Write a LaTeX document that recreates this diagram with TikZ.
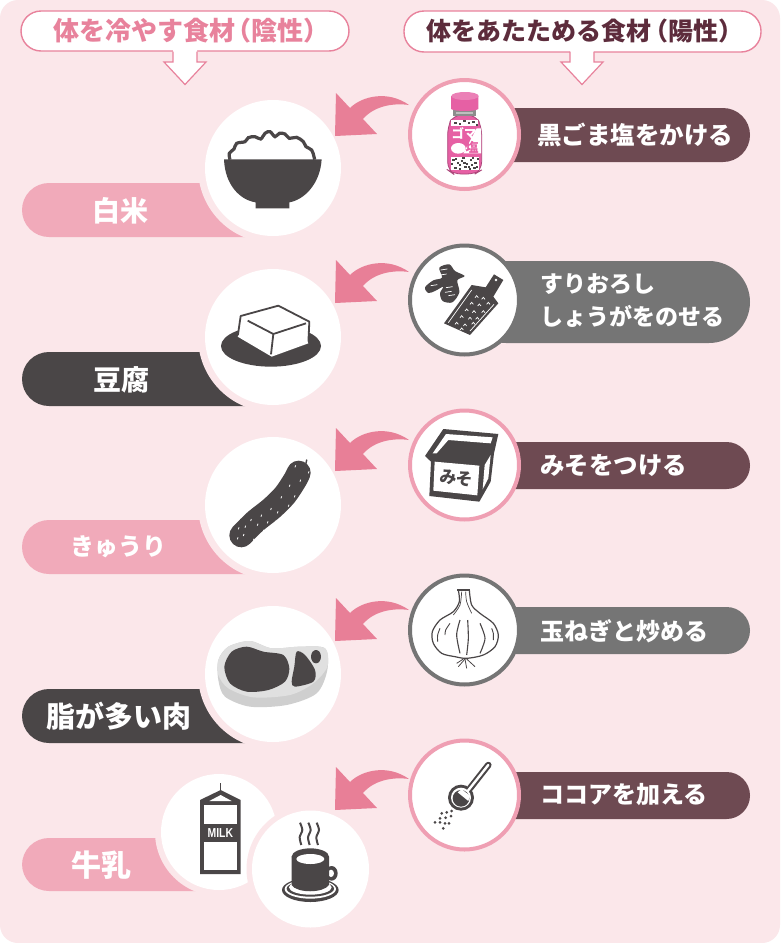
\documentclass[tikz,border=0pt]{standalone}
\usepackage{fontspec}
\setmainfont{Noto Sans CJK JP}
\newfontfamily\latinbold{Liberation Sans}[BoldFont={Liberation Sans Bold}]
\definecolor{bgpink}{HTML}{FBE7EA}
\definecolor{barpink}{HTML}{F1AABA}
\definecolor{inkdark}{HTML}{4A4647}
\definecolor{arrowpink}{HTML}{E87F97}
\definecolor{ringpink}{HTML}{EF9FB3}
\definecolor{headpink}{HTML}{E8829C}
\definecolor{headdark}{HTML}{5D2C3C}
\definecolor{barmaroon}{HTML}{6E4A52}
\definecolor{bargray}{HTML}{757575}
\definecolor{bottlepink}{HTML}{E660A4}
\tikzset{
  headbox/.style={draw=headpink,line width=1.4pt,fill=white,rounded corners=20pt,inner sep=0pt},
  whitedisc/.style={circle,fill=white,inner sep=0pt},
  halodisc/.style={circle,fill=bgpink,inner sep=0pt},
  ringdisc/.style={circle,fill=white,inner sep=0pt,minimum size=109pt,line width=4pt,draw=#1},
  leftlabel/.style={text=white,inner sep=0pt,font=\bfseries\fontsize{#1}{#1}\selectfont},
  rightlabel/.style={text=white,inner sep=0pt,anchor=west,align=left,font=\bfseries\fontsize{#1}{33}\selectfont},
  zoomed/.style n args={2}{shift={(#1,#2)},scale=1/3},
}
\newcommand{\leftbar}[4]{\fill[#1,rounded corners=27pt] (22,#2) rectangle (#4,#3);}
\newcommand{\rightbar}[4]{\fill[#1,rounded corners=#4] (465,#2) rectangle (750,#3);}
\newcommand{\bendarrow}[1]{
  \fill[arrowpink,shift={(0,#1)}] (336,0) -- (350,15) .. controls (362,3) and (388,-3) .. (409,12)
    .. controls (395,10) and (375,12) .. (363,26) -- (377,41) -- (335,43) -- cycle;
}
\newcommand{\headarrow}[1]{
  \fill[white,shift={(#1,0)}] (-12,50) -- (-12,62) -- (-21,62) -- (0,84.5) -- (21,62) -- (12,62) -- (12,50) -- cycle;
  \draw[headpink,line width=1.2pt,shift={(#1,0)}] (-12,51.5) -- (-12,62) -- (-21,62) -- (0,84.5) -- (21,62) -- (12,62) -- (12,51.5);
}
\begin{document}
\begin{tikzpicture}[x=1pt,y=-1pt]
\useasboundingbox (0,0) rectangle (780,943);
\fill[white] (0,0) rectangle (780,943);
\fill[bgpink,rounded corners=18pt] (0,0) rectangle (780,943);

% headers
\node[headbox,minimum width=328pt,minimum height=40pt] (coldhead) at (185,31) {};
\node[headbox,minimum width=357pt,minimum height=41pt] (warmhead) at (582.5,31.5) {};
\headarrow{185}
\headarrow{582}
\node[text=headpink,inner sep=0pt,font=\bfseries\fontsize{26}{26}\selectfont] (coldtext) at (191.5,31) {体を冷やす食材\hspace{-.35em}（陰性）\hspace{-.3em}};
\node[text=headdark,inner sep=0pt,font=\bfseries\fontsize{25}{25}\selectfont] (warmtext) at (585,31) {体をあたためる食材\hspace{-.35em}（陽性）\hspace{-.3em}};

% left bars
\leftbar{barpink}{183}{237}{300}
\leftbar{inkdark}{352}{406}{300}
\leftbar{barpink}{520}{574}{300}
\leftbar{inkdark}{689}{743}{300}
\leftbar{barpink}{838}{891}{240}

% left discs
\foreach \cy [count=\i] in {168,337,505,674} {
  \node[halodisc,minimum size=150pt] (halo\i) at (273,\cy) {};
  \node[whitedisc,minimum size=136pt] (food\i) at (273,\cy) {};
}
\node[halodisc,minimum size=128pt] (halomilk) at (219,832) {};
\node[whitedisc,minimum size=116pt] (milk) at (219,832) {};
\node[halodisc,minimum size=128pt] (halocoffee) at (310.5,869) {};
\node[whitedisc,minimum size=117pt] (coffee) at (310.5,869) {};

\node[leftlabel=28] (rice) at (120.5,211) {白米};
\node[leftlabel=28] (tofu) at (121,380) {豆腐};
\node[leftlabel=24] (cucumber) at (118.5,547) {きゅうり};
\node[leftlabel=29] (meat) at (119,716) {脂が多い肉};
\node[leftlabel=30] (milktext) at (101.5,865) {牛乳};

% right bars
\rightbar{barmaroon}{108}{162}{27pt}
\rightbar{bargray}{261}{343}{41pt}
\rightbar{barmaroon}{442}{489}{23.5pt}
\rightbar{bargray}{607}{654}{23.5pt}
\rightbar{barmaroon}{772}{819}{23.5pt}

\node[ringdisc=ringpink] (sesame) at (464.5,134.5) {};
\node[ringdisc=bargray] (ginger) at (464.5,300) {};
\node[ringdisc=ringpink] (miso) at (464.5,465) {};
\node[ringdisc=bargray] (onion) at (464.5,630) {};
\node[ringdisc=ringpink] (cocoa) at (464.5,795) {};

\node[rightlabel=24.5] (sesametext) at (537,135) {黒ごま塩をかける};
\node[rightlabel=23] (gingertext) at (540,301) {すりおろし\\しょうがをのせる};
\node[rightlabel=24.5] (misotext) at (540,465) {みそをつける};
\node[rightlabel=24] (oniontext) at (540,631) {玉ねぎと炒める};
\node[rightlabel=24] (cocoatext) at (540,795) {ココアを加える};

% arrows
\bendarrow{93}
\bendarrow{260}
\bendarrow{428}
\bendarrow{598}
\bendarrow{767}

% bowl of rice
\begin{scope}[zoomed={220}{125}]
\fill[white] (28,104) -- (28,85) -- (135,25) -- (230,37) -- (282,104) -- cycle;
\draw[inkdark,line width=3.2pt,fill=white] plot[smooth,tension=.6] coordinates {(30,104) (28,85) (42,72) (50,55) (75,50) (85,38) (105,35) (122,42) (135,25) (150,20) (165,35) (178,25) (195,27) (208,40) (230,37) (250,50) (258,65) (275,75) (282,95) (284,104)};
\fill[inkdark] (12,103) -- (305,103) .. controls (300,180) and (250,225) .. (208,232) -- (208,250) -- (107,250) -- (107,232) .. controls (60,225) and (15,180) .. (12,103) -- cycle;
\end{scope}

% tofu
\begin{scope}[zoomed={200}{260}]
\fill[inkdark] (213,258) circle[x radius=150,y radius=62];
\draw[inkdark,line width=1.8pt,fill=white,line join=round] (122,168) -- (235,137) -- (328,185) -- (325,250) -- (215,290) -- (113,230) -- cycle;
\fill[white] (113,230) -- (215,290) -- (325,250) -- (320,240) -- (120,220) -- cycle;
\draw[inkdark,line width=1.8pt] (143,182) -- (220,222) -- (318,190);
\draw[inkdark,line width=1.8pt] (220,222) -- (213,283);
\end{scope}

% cucumber
\begin{scope}[zoomed={200}{260}]
\draw[inkdark,line width=1.5pt,line cap=round] (318,610) -- (320,600);
\draw[inkdark,line width=24pt,line cap=round] plot[smooth] coordinates {(296,638) (285,660) (255,705) (215,745) (165,785) (124,826)};
\foreach \px/\py in {285/622,300/665,268/680,325/640,243/715,283/712,265/740,212/750,232/760,183/770,152/783,115/808,135/803,172/797,202/790,226/788,190/815,160/842,130/828,112/838} {
  \draw[white,line width=.8pt] (\px,\py) -- ++(2,-6);
}
\end{scope}

% meat
\begin{scope}[zoomed={200}{260}]
\fill[black!19] plot[smooth cycle] coordinates {(55,1200) (85,1160) (150,1143) (215,1165) (300,1160) (375,1165) (382,1230) (350,1300) (260,1335) (150,1340) (75,1310) (55,1260)};
\fill[black!12] plot[smooth cycle] coordinates {(55,1200) (85,1160) (150,1143) (215,1165) (300,1160) (375,1165) (382,1220) (340,1270) (270,1305) (160,1312) (85,1285) (55,1245)};
\fill[inkdark] plot[smooth cycle] coordinates {(73,1220) (95,1175) (140,1160) (190,1175) (250,1185) (268,1225) (255,1265) (205,1290) (140,1295) (90,1270)};
\fill[inkdark] plot[smooth cycle] coordinates {(290,1175) (315,1185) (345,1230) (340,1265) (285,1280) (275,1265) (283,1220)};
\fill[inkdark] (348,1190) circle[x radius=15,y radius=20];
\end{scope}

% milk
\begin{scope}[zoomed={150}{730}]
\draw[inkdark,line width=1.2pt] (212,160) -- (212,190);
\fill[inkdark] (150,432) -- (150,210) -- (212,180) -- (272,210) -- (272,432) -- cycle;
\fill[white] (178,213) -- (212,195) -- (245,213) -- cycle;
\fill[white] (162,225) rectangle (260,283);
\fill[white] (162,335) rectangle (260,420);
\end{scope}
\node[text=white,inner sep=0pt,font=\latinbold\bfseries\fontsize{13}{13}\selectfont] (milkword) at (220.3,833) {\scalebox{.8}[1]{MILK}};

% coffee
\begin{scope}[zoomed={150}{730}]
\foreach \sx in {0,25,50} {
  \draw[inkdark,line width=2pt] plot[smooth] coordinates {(450+\sx,278) (457+\sx,300) (449+\sx,322) (454+\sx,345)};
}
\fill[inkdark] (481,480) circle[x radius=85,y radius=36];
\fill[white] (481,477) circle[x radius=77,y radius=29];
\fill[inkdark] (481,476) circle[x radius=71,y radius=24];
\fill[white] (481,472) circle[x radius=64,y radius=22];
\fill[inkdark] (545,430) circle[x radius=18,y radius=22];
\fill[white] (543,430) circle[x radius=9,y radius=11];
\fill[inkdark] (425,380) -- (425,465) .. controls (440,490) and (520,490) .. (537,465) -- (537,380) -- cycle;
\fill[inkdark] (481,380) circle[x radius=56,y radius=25];
\fill[white] (481,387) circle[x radius=42,y radius=15];
\end{scope}

% sesame salt bottle
\begin{scope}[zoomed={435}{85}]
\draw[bottlepink!75!black,fill=bottlepink,line width=.8pt,rounded corners=8pt] (38,125) -- (55,90) -- (122,90) -- (140,125) -- (140,255) -- (120,267) -- (55,267) -- (38,255) -- cycle;
\fill[black!45] (55,72) rectangle (122,92);
\fill[black!25] (62,80) rectangle (115,88);
\fill[bottlepink] (48,33) -- (48,72) .. controls (60,80) and (120,80) .. (130,72) -- (130,33) -- cycle;
\fill[bottlepink!80!white] (90,33) circle[x radius=41,y radius=12];
\fill[white] (48,105) rectangle (130,122);
\fill[white] (48,215) rectangle (132,255);
\fill[white] (125,130) -- (138,130) -- (138,205) -- (85,205) -- cycle;
\fill[white] (70,190) circle[x radius=22,y radius=16];
\foreach \px/\py in {58/110,72/115,85/106,98/112,112/108,122/116,52/222,65/232,78/225,92/235,105/222,118/232,125/220,58/245,72/248,88/244,102/250,115/245,48/235,82/215,110/216,60/218,72/238,98/244,122/244,85/232,108/236} {
  \fill[inkdark] (\px,\py) rectangle ++(7,6);
}
\end{scope}
\node[text=white,inner sep=0pt,font=\bfseries\fontsize{12.5}{12.5}\selectfont] (gomaword) at (464,134) {ゴマ};
\node[text=bottlepink,inner sep=0pt,font=\bfseries\fontsize{13}{13}\selectfont] (shioword) at (472,147) {塩};

% ginger and grater
\begin{scope}[zoomed={420}{255}]
\fill[inkdark] plot[smooth cycle,tension=.5] coordinates {(58,38) (88,28) (105,48) (134,63) (112,76) (118,112) (97,142) (68,138) (60,115) (70,95) (45,108) (25,114) (15,97) (40,76) (66,68)};
\foreach \lx/\ly in {62/45,60/60,78/98,75/112,85/122,32/92} {
  \draw[white,line width=.7pt] (\lx,\ly) -- ++(20,-3);
}
\fill[inkdark] (155,90) -- (197,97) -- (222,58) -- (250,75) -- (220,125) -- (235,145) -- (150,240) -- (72,205) -- cycle;
\fill[white] (228,75) circle[radius=4];
\draw[white,line width=.7pt] (155,105) -- (85,203);
\draw[white,line width=.7pt] (222,148) -- (150,228);
\foreach \px/\py in {170/125,190/130,155/145,178/150,205/145,140/165,162/170,190/170,125/185,150/190,172/190,110/205,135/210,160/205,125/222} {
  \draw[white,line width=.7pt] (\px-5,\py+3) -- (\px,\py-3) -- (\px+5,\py+3);
}
\end{scope}

% miso tub
\begin{scope}[zoomed={420}{420}]
\fill[inkdark] (70,27) -- (235,42) -- (222,100) -- (212,185) -- (178,245) -- (28,228) -- (33,125) -- (15,108) -- cycle;
\fill[white] (78,42) -- (218,52) -- (212,70) -- (85,60) -- (50,100) -- (38,100) -- cycle;
\fill[white] (44,125) -- (178,137) -- (172,226) -- (40,212) -- cycle;
\fill[white] (194,135) -- (212,105) -- (205,175) -- (188,208) -- cycle;
\end{scope}
\node[text=inkdark,inner sep=0pt,rotate=-5,font=\bfseries\fontsize{17}{17}\selectfont] (misoword) at (456.5,478) {みそ};

% onion
\begin{scope}[zoomed={425}{585}]
\draw[inkdark,line width=1.2pt,fill=white] plot[smooth] coordinates {(100,15) (103,50) (85,80) (45,105) (22,140) (25,175) (50,205) (90,215) (125,220) (175,210) (210,185) (220,150) (205,115) (165,85) (140,60) (133,15)};
\draw[inkdark,line width=1.6pt] (97,15) -- (135,15);
\draw[inkdark,line width=1.1pt] plot[smooth] coordinates {(105,105) (95,150) (105,205)};
\draw[inkdark,line width=1.1pt] plot[smooth] coordinates {(128,105) (130,160) (125,210)};
\draw[inkdark,line width=1.1pt] plot[smooth] coordinates {(165,115) (180,160) (165,205)};
\draw[inkdark,line width=.9pt] plot[smooth] coordinates {(75,115) (62,135) (60,150)};
\draw[inkdark,line width=.9pt] plot[smooth] coordinates {(45,130) (38,150) (38,170)};
\draw[inkdark,line width=.9pt] plot[smooth] coordinates {(200,130) (205,145) (205,165)};
\draw[inkdark,line width=.7pt] plot[smooth] coordinates {(110,20) (105,60) (85,90)};
\draw[inkdark,line width=.7pt] plot[smooth] coordinates {(122,20) (125,50) (140,85)};
\draw[inkdark,line width=.8pt] (120,222) -- (100,245);
\draw[inkdark,line width=.8pt] (120,222) -- (125,250);
\draw[inkdark,line width=.8pt] (125,222) -- (150,245);
\draw[inkdark,line width=.8pt] (115,222) -- (95,235);
\end{scope}

% spoon
\begin{scope}[zoomed={425}{755}]
\draw[inkdark,line width=6.5pt,line cap=round] (135,100) -- (190,30);
\fill[inkdark] (108,128) circle[radius=39];
\draw[white,line width=2.4pt,line cap=round] (125,112) -- (190,30);
\fill[white] (108,128) circle[radius=30];
\fill[inkdark] (108,130) circle[radius=25];
\fill[white] (98,112) -- (110,103) -- (135,122) -- (130,138) -- cycle;
\foreach \px/\py in {50/175,65/172,45/190,62/188,78/183,30/202,45/202,60/205,55/220,72/205,80/168} {
  \fill[inkdark] (\px,\py) circle[radius=4.5];
}
\end{scope}
\end{tikzpicture}
\end{document}
